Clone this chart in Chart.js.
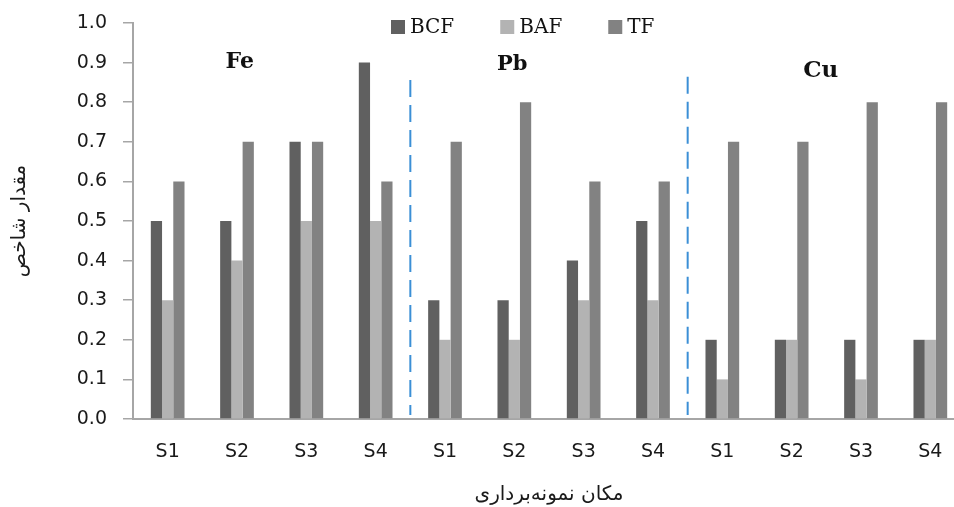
<!DOCTYPE html>
<html>
<head>
<meta charset="utf-8">
<title>BCF BAF TF</title>
<script src="https://cdn.jsdelivr.net/npm/chart.js@4.4.0/dist/chart.umd.min.js"></script>
<style>
  html, body { margin: 0; padding: 0; background: #fff; overflow: hidden; }
  #wrap { width: 965px; height: 507px; }
</style>
</head>
<body>
<div id="wrap"><canvas id="chart"></canvas></div>
<script>
// sampling sites, three metal groups of four
const labels = ['S1', 'S2', 'S3', 'S4', 'S1', 'S2', 'S3', 'S4', 'S1', 'S2', 'S3', 'S4'];
const metals = ['Fe', 'Pb', 'Cu'];

// index values
const bcf = [0.5, 0.5, 0.7, 0.9, 0.3, 0.3, 0.4, 0.5, 0.2, 0.2, 0.2, 0.2];
const baf = [0.3, 0.4, 0.5, 0.5, 0.2, 0.2, 0.3, 0.3, 0.1, 0.2, 0.1, 0.2];
const tf  = [0.6, 0.7, 0.7, 0.6, 0.7, 0.8, 0.6, 0.6, 0.7, 0.7, 0.8, 0.8];

const yMin = 0;
const yMax = 1;
const yStep = 0.1;

const axisColor = '#a6a6a6';
const textColor = '#1a1a1a';

/**
 * Draws the group separators, metal names and the legend
 */
const overlayPlugin = {
    id: 'overlay',
    afterDatasetsDraw(chart) {
        const { ctx, scales: { x, y } } = chart;
        ctx.save();

        // dashed separators between the metal groups
        ctx.strokeStyle = '#3b8fd6';
        ctx.lineWidth = 2;
        ctx.setLineDash([17, 8]);
        [[3.5, 0.856], [7.5, 0.864]].forEach(([idx, top]) => {
            const px = x.getPixelForValue(idx);
            ctx.beginPath();
            ctx.moveTo(px, y.getPixelForValue(top));
            ctx.lineTo(px, y.getPixelForValue(0.01));
            ctx.stroke();
        });
        ctx.setLineDash([]);

        // metal names above each group
        const spots = [[1.04, 0.90, 22], [4.97, 0.894, 21], [9.42, 0.879, 23]];
        ctx.fillStyle = '#111';
        ctx.textAlign = 'center';
        ctx.textBaseline = 'middle';
        metals.forEach((name, i) => {
            const [idx, val, size] = spots[i];
            ctx.font = `bold ${size}px "DejaVu Serif"`;
            ctx.fillText(name, x.getPixelForValue(idx), y.getPixelForValue(val));
        });

        // legend
        ctx.font = '20px "DejaVu Serif"';
        ctx.textAlign = 'left';
        let lx = 391;
        const ly = 27;
        chart.data.datasets.forEach(ds => {
            ctx.fillStyle = ds.backgroundColor;
            ctx.fillRect(lx, ly - 7, 14, 14);
            ctx.fillStyle = '#111';
            ctx.fillText(ds.label, lx + 19, ly + 1);
            lx += 19 + ctx.measureText(ds.label).width + 46;
        });

        ctx.restore();
    }
};

const ctx = document.getElementById('chart').getContext('2d');
new Chart(ctx, {
    type: 'bar',
    data: {
        labels: labels,
        datasets: [
            { label: 'BCF', data: bcf, backgroundColor: '#606060' },
            { label: 'BAF', data: baf, backgroundColor: '#b3b3b3' },
            { label: 'TF', data: tf, backgroundColor: '#828282' }
        ]
    },
    options: {
        responsive: true,
        maintainAspectRatio: false,
        animation: false,
        layout: { padding: { top: 23, right: 0, bottom: 0, left: 0 } },
        datasets: {
            bar: { categoryPercentage: 0.486, barPercentage: 1.0, borderWidth: 0 }
        },
        plugins: {
            legend: { display: false },
            tooltip: { enabled: false }
        },
        scales: {
            x: {
                grid: { display: false, drawTicks: false },
                border: { display: true, color: axisColor, width: 2 },
                ticks: {
                    padding: 22,
                    color: textColor,
                    font: { family: '"DejaVu Sans"', size: 19 }
                },
                title: {
                    display: true,
                    text: 'مکان نمونه‌برداری',
                    color: textColor,
                    font: { family: '"DejaVu Sans"', size: 20 },
                    padding: { top: 18, bottom: 0 }
                },
                afterFit: scale => { scale.height = 88; }
            },
            y: {
                min: yMin,
                max: yMax,
                grid: {
                    drawOnChartArea: false,
                    drawTicks: true,
                    tickLength: 10,
                    color: axisColor,
                    lineWidth: 1.5
                },
                border: { display: true, color: axisColor, width: 2 },
                ticks: {
                    stepSize: yStep,
                    padding: 16,
                    color: textColor,
                    font: { family: '"DejaVu Sans"', size: 19 },
                    callback: v => Number(v).toFixed(1)
                },
                title: {
                    display: true,
                    text: 'مقدار شاخص',
                    color: textColor,
                    font: { family: '"DejaVu Sans"', size: 20 },
                    padding: { top: 8, bottom: 4 }
                },
                afterFit: scale => {
                    scale.width = 133;
                    // keep the plot top where the layout padding puts it
                    scale.paddingTop = 0;
                    scale.paddingBottom = 0;
                }
            }
        }
    },
    plugins: [overlayPlugin]
});
</script>
</body>
</html>
